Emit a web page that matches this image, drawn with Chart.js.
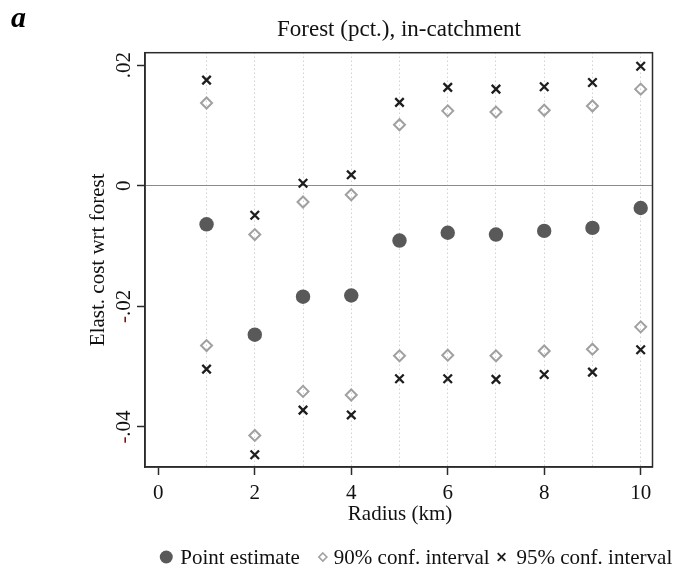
<!DOCTYPE html>
<html><head><meta charset="utf-8">
<script src="https://cdn.jsdelivr.net/npm/chart.js@4.4.0/dist/chart.umd.min.js"></script>
<style>html,body{margin:0;padding:0;background:#fff;} canvas{display:block;}</style>
</head><body>
<canvas id="c" width="680" height="574"></canvas>
<script>
// ---- data ----
const radiusKm = [1, 2, 3, 4, 5, 6, 7, 8, 9, 10];
const pointEstimate = [-0.0064, -0.0247, -0.0184, -0.0182, -0.0091, -0.0078, -0.0081, -0.0075, -0.0070, -0.0037];
const ci90Upper = [0.0137, -0.0081, -0.0027, -0.0015, 0.0101, 0.0124, 0.0122, 0.0125, 0.0132, 0.0160];
const ci90Lower = [-0.0265, -0.0414, -0.0341, -0.0347, -0.0282, -0.0281, -0.0282, -0.0274, -0.0271, -0.0234];
const ci95Upper = [0.0175, -0.0049, 0.0004, 0.0018, 0.0138, 0.0163, 0.0160, 0.0164, 0.0171, 0.0198];
const ci95Lower = [-0.0304, -0.0446, -0.0372, -0.0380, -0.0320, -0.0320, -0.0321, -0.0313, -0.0309, -0.0272];
const xTickValues = [0, 1, 2, 3, 4, 5, 6, 7, 8, 9, 10];
const yTickValues = [-0.04, -0.02, 0, 0.02];
const yTickLabels = ['-.04', '-.02', '0', '.02'];
const seriesLabels = ['Point estimate', '90% conf. interval', '95% conf. interval'];
const chartTitle = 'Forest (pct.), in-catchment';
const panelLetter = 'a';
const xTitle = 'Radius (km)';
const yTitle = 'Elast. cost wrt forest';

const SERIF = '"Liberation Serif", "Times New Roman", serif';
const COL_PT = '#595959', COL_90 = '#a0a0a0', COL_95 = '#1e1e1e';

const pts = (xs, ys) => xs.map((x, i) => ({x: x, y: ys[i]}));

function drawMarker(ctx, style, x, y, r) {
  ctx.save();
  ctx.beginPath();
  if (style === 'circle') {
    ctx.fillStyle = COL_PT;
    ctx.arc(x, y, r, 0, Math.PI * 2);
    ctx.fill();
  } else if (style === 'diamond') {
    ctx.strokeStyle = COL_90; ctx.lineWidth = 1.6;
    ctx.moveTo(x, y - r); ctx.lineTo(x + r, y); ctx.lineTo(x, y + r); ctx.lineTo(x - r, y); ctx.closePath();
    ctx.stroke();
  } else {
    ctx.strokeStyle = COL_95; ctx.lineWidth = 1.8;
    ctx.moveTo(x - r, y - r); ctx.lineTo(x + r, y + r);
    ctx.moveTo(x + r, y - r); ctx.lineTo(x - r, y + r);
    ctx.stroke();
  }
  ctx.restore();
}

const decor = {
  id: 'decor',
  afterDraw(chart) {
    const {ctx, chartArea: a, scales} = chart;
    ctx.save();
    // frame
    ctx.strokeStyle = '#2b2b2b'; ctx.lineWidth = 1.5;
    ctx.strokeRect(a.left, a.top, a.right - a.left, a.bottom - a.top);
    // panel letter
    ctx.fillStyle = '#000';
    ctx.font = 'bold italic 30px ' + SERIF;
    ctx.textAlign = 'left'; ctx.textBaseline = 'alphabetic';
    ctx.fillText(panelLetter, 11, 27);
    // title
    ctx.font = '23px ' + SERIF;
    ctx.textAlign = 'center';
    ctx.fillStyle = '#111';
    ctx.fillText(chartTitle, 399, 36);
    // x title
    ctx.font = '21px ' + SERIF;
    ctx.fillText(xTitle, 400, 520);
    // y title
    ctx.save();
    ctx.translate(104, (a.top + a.bottom) / 2);
    ctx.rotate(-Math.PI / 2);
    ctx.fillText(yTitle, 0, 0);
    ctx.restore();
    // y tick labels (rotated; minus sign in dark red)
    ctx.font = '21px ' + SERIF;
    ctx.textAlign = 'left';
    yTickValues.forEach((v, i) => {
      const lab = yTickLabels[i];
      const py = scales.y.getPixelForValue(v);
      const w = ctx.measureText(lab).width;
      ctx.save();
      ctx.translate(130, py);
      ctx.rotate(-Math.PI / 2);
      let x0 = -w / 2;
      if (lab[0] === '-') {
        ctx.fillStyle = '#8b0a0a';
        ctx.fillText('-', x0, 0);
        x0 += ctx.measureText('-').width;
        ctx.fillStyle = '#111';
        ctx.fillText(lab.slice(1), x0, 0);
      } else {
        ctx.fillStyle = '#111';
        ctx.fillText(lab, x0, 0);
      }
      ctx.restore();
    });
    // legend
    ctx.font = '21px ' + SERIF;
    ctx.fillStyle = '#111';
    ctx.textAlign = 'left';
    const styles = ['circle', 'diamond', 'cross'];
    const radii = [6.5, 4, 3.8];
    const widths = seriesLabels.map(s => ctx.measureText(s).width);
    let cur = 0; const mx = [], tx = [];
    for (let i = 0; i < 3; i++) {
      if (i > 0) cur += (i === 1 ? 23 : 12);
      mx.push(cur);
      cur += (i === 0 ? 14 : (i === 1 ? 11 : 15));
      tx.push(cur);
      cur += widths[i];
    }
    const groupLeft = -6.5, groupRight = cur;
    const shift = 416 - (groupLeft + groupRight) / 2;
    const ly = 557;
    for (let i = 0; i < 3; i++) {
      drawMarker(ctx, styles[i], mx[i] + shift, ly, radii[i]);
      ctx.fillStyle = '#111';
      ctx.fillText(seriesLabels[i], tx[i] + shift, 564);
    }
    ctx.restore();
  }
};

new Chart(document.getElementById('c'), {
  type: 'scatter',
  data: {
    datasets: [
      {
        label: seriesLabels[1],
        data: pts(radiusKm, ci90Upper).concat(pts(radiusKm, ci90Lower)),
        pointStyle: 'rectRot', pointRadius: 5.5, pointBorderWidth: 2,
        borderColor: COL_90, backgroundColor: 'rgba(255,255,255,0)'
      },
      {
        label: seriesLabels[2],
        data: pts(radiusKm, ci95Upper).concat(pts(radiusKm, ci95Lower)),
        pointStyle: 'crossRot', pointRadius: 6, pointBorderWidth: 2.3,
        borderColor: COL_95, backgroundColor: COL_95
      },
      {
        label: seriesLabels[0],
        data: pts(radiusKm, pointEstimate),
        pointStyle: 'circle', pointRadius: 7.2, pointBorderWidth: 0,
        borderColor: COL_PT, backgroundColor: COL_PT
      }
    ]
  },
  options: {
    responsive: false,
    animation: false,
    events: [],
    layout: {padding: {left: 0, top: 52.7, right: 27.5, bottom: 0}},
    plugins: {legend: {display: false}, tooltip: {enabled: false}, title: {display: false}},
    scales: {
      x: {
        type: 'linear', min: -0.276, max: 10.245,
        afterBuildTicks: s => { s.ticks = xTickValues.map(v => ({value: v})); },
        afterFit: s => { s.height = 107; },
        ticks: {
          autoSkip: false, maxRotation: 0, minRotation: 0, padding: 6,
          color: '#111', font: {family: SERIF, size: 21},
          callback: v => (v % 2 === 0 ? String(v) : '')
        },
        grid: {
          color: c => (c.tick && c.tick.value >= 1 ? '#bcbcbc' : 'rgba(0,0,0,0)'),
          lineWidth: 1,
          tickLength: 8,
          tickColor: c => (c.tick && c.tick.value % 2 === 0 ? '#2b2b2b' : 'rgba(0,0,0,0)'),
          tickWidth: 1.5
        },
        border: {display: true, color: '#2b2b2b', width: 1.5, dash: [1, 3]}
      },
      y: {
        type: 'linear', min: -0.04663, max: 0.02204,
        afterBuildTicks: s => { s.ticks = yTickValues.map(v => ({value: v})); },
        afterFit: s => { s.width = 145; },
        ticks: {display: false},
        grid: {
          color: c => (c.tick && c.tick.value === 0 ? '#8a8a8a' : 'rgba(0,0,0,0)'),
          lineWidth: 1,
          tickLength: 8,
          tickColor: '#2b2b2b',
          tickWidth: 1.5
        },
        border: {display: true, color: '#2b2b2b', width: 1.5}
      }
    }
  },
  plugins: [decor]
});
</script>
</body></html>
